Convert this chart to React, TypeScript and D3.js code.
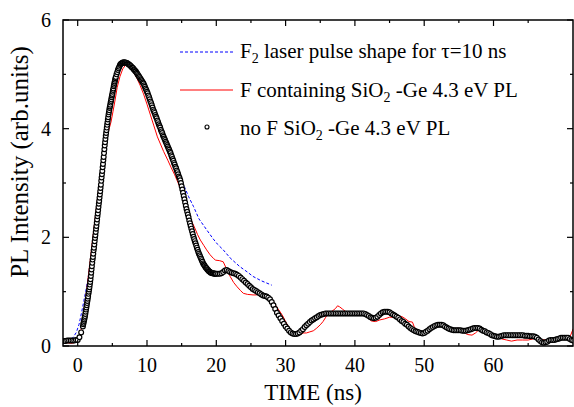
import React from 'react';
import * as d3 from 'd3';

// no F SiO2-Ge 4.3 eV PL (open circles), sampled in segments
const noFStart = [-2.0, 0.8, 5.6, 20.25];
const noFStep = [0.25, 0.05, 0.1, 0.25];
const noFBase = [0.09,0.09,0.10,0.10,0.10,0.10,0.10,0.11,0.11,0.16,0.25,0.36];
const noFRise = [
  0.40,0.43,0.46,0.49,0.52,0.55,0.59,0.63,0.67,0.71,0.75,0.79,0.83,0.87,0.91,0.96,1.00,1.04,1.08,1.13,
  1.18,1.23,1.29,1.35,1.41,1.47,1.53,1.59,1.64,1.70,1.76,1.81,1.87,1.93,1.99,2.04,2.10,2.16,2.21,2.27,
  2.33,2.39,2.44,2.50,2.56,2.62,2.67,2.73,2.79,2.85,2.91,2.97,3.04,3.10,3.16,3.22,3.29,3.35,3.42,3.48,
  3.55,3.62,3.69,3.75,3.81,3.87,3.92,3.97,4.02,4.07,4.12,4.17,4.21,4.26,4.30,4.34,4.38,4.41,4.44,4.48,
  4.51,4.54,4.58,4.61,4.64,4.68,4.71,4.74,4.78,4.81,4.84,4.87,4.90,4.93,4.95
];
const noFDecay = [
  5.00,5.04,5.08,5.11,5.14,5.17,5.19,5.20,5.21,5.22,5.22,5.22,5.22,5.22,5.21,5.21,5.20,5.19,5.18,5.17,
  5.16,5.15,5.13,5.12,5.11,5.09,5.08,5.06,5.05,5.03,5.01,4.99,4.97,4.95,4.93,4.91,4.89,4.87,4.85,4.83,
  4.80,4.77,4.74,4.71,4.68,4.65,4.61,4.58,4.54,4.50,4.47,4.43,4.39,4.35,4.32,4.29,4.25,4.22,4.19,4.15,
  4.12,4.08,4.05,4.02,3.98,3.95,3.92,3.88,3.85,3.82,3.79,3.76,3.73,3.70,3.67,3.64,3.61,3.58,3.55,3.51,
  3.48,3.44,3.41,3.37,3.34,3.30,3.27,3.23,3.20,3.16,3.12,3.09,3.05,3.00,2.94,2.88,2.82,2.76,2.70,2.64,
  2.58,2.52,2.47,2.42,2.37,2.31,2.26,2.21,2.16,2.11,2.06,2.01,1.97,1.93,1.89,1.85,1.81,1.77,1.73,1.70,
  1.67,1.64,1.61,1.58,1.55,1.52,1.50,1.48,1.46,1.44,1.43,1.41,1.40,1.38,1.37,1.36,1.35,1.35,1.34,1.34,
  1.34,1.33,1.33,1.33,1.33
];
const noFTail = [
  1.33,1.33,1.34,1.36,1.39,1.40,1.38,1.36,1.35,1.34,1.33,1.31,1.29,1.26,1.23,1.20,1.17,1.14,1.11,1.08,
  1.05,1.03,1.01,0.99,0.97,0.95,0.93,0.92,0.91,0.89,0.86,0.81,0.75,0.68,0.61,0.56,0.51,0.46,0.41,0.36,
  0.32,0.28,0.25,0.23,0.22,0.22,0.23,0.25,0.28,0.31,0.35,0.38,0.41,0.44,0.47,0.49,0.51,0.53,0.55,0.57,
  0.58,0.59,0.60,0.60,0.60,0.60,0.60,0.60,0.60,0.60,0.60,0.60,0.60,0.60,0.60,0.60,0.60,0.60,0.60,0.60,
  0.60,0.60,0.60,0.60,0.60,0.59,0.57,0.55,0.53,0.52,0.51,0.52,0.54,0.57,0.60,0.62,0.63,0.63,0.63,0.62,
  0.60,0.58,0.56,0.54,0.52,0.49,0.46,0.44,0.41,0.39,0.36,0.33,0.31,0.29,0.27,0.26,0.25,0.24,0.23,0.24,
  0.26,0.28,0.31,0.33,0.35,0.37,0.38,0.39,0.39,0.39,0.38,0.36,0.34,0.32,0.31,0.30,0.29,0.29,0.29,0.29,
  0.29,0.28,0.28,0.28,0.29,0.30,0.31,0.32,0.33,0.33,0.33,0.32,0.30,0.28,0.27,0.25,0.24,0.22,0.20,0.19,
  0.18,0.17,0.17,0.18,0.19,0.20,0.20,0.20,0.20,0.20,0.20,0.20,0.20,0.20,0.20,0.20,0.20,0.19,0.19,0.19,
  0.18,0.18,0.18,0.17,0.15,0.12,0.09,0.07,0.06,0.07,0.08,0.10,0.11,0.11,0.11,0.12,0.13,0.14,0.15,0.15,
  0.15,0.15,0.15,0.13,0.11,0.10
];

// F containing SiO2-Ge 4.3 eV PL (red line), [ns, intensity]
const fPL = [
  [-2.1,0.05],[-1.5,0.06],[-1.0,0.05],[-0.5,0.06],[0,0.09],[0.3,0.18],[0.6,0.36],[0.9,0.62],[1.2,0.92],
  [1.5,1.25],[1.8,1.57],[2.1,1.90],[2.4,2.22],[2.7,2.54],[3.0,2.86],[3.3,3.16],[3.6,3.44],[3.9,3.68],
  [4.2,3.86],[4.5,3.98],[4.8,4.12],[5.1,4.32],[5.4,4.53],[5.7,4.76],[6.1,4.96],[6.5,5.10],[6.9,5.17],
  [7.3,5.17],[7.7,5.10],[8.0,5.05],[8.5,4.94],[9.0,4.80],[9.5,4.64],[10.0,4.45],[10.5,4.25],[11.0,4.05],
  [11.5,3.85],[12.0,3.70],[12.4,3.58],[13.0,3.42],[13.5,3.28],[14.0,3.15],[14.5,3.00],[15.0,2.84],
  [15.5,2.64],[16.0,2.45],[16.5,2.28],[16.9,2.17],[17.3,2.05],[17.7,1.95],[18.2,1.85],[18.6,1.77],
  [19.1,1.68],[19.6,1.61],[19.9,1.58],[20.5,1.57],[21.0,1.55],[21.4,1.44],[21.7,1.36],[22.0,1.28],
  [22.5,1.17],[23.0,1.09],[23.5,1.02],[23.9,0.97],[24.5,0.95],[25.3,0.94],[25.8,0.94],[26.3,0.97],
  [26.8,0.93],[27.3,0.91],[27.8,0.87],[28.3,0.80],[28.8,0.70],[29.2,0.63],[29.6,0.55],[30.0,0.45],
  [30.4,0.36],[30.8,0.28],[31.1,0.22],[31.4,0.20],[31.8,0.20],[32.2,0.22],[32.6,0.24],[33.0,0.24],
  [33.5,0.26],[34.0,0.28],[34.5,0.33],[35.0,0.39],[35.4,0.45],[35.8,0.53],[36.2,0.60],[36.7,0.64],
  [37.2,0.69],[37.5,0.74],[37.8,0.72],[38.2,0.68],[38.6,0.64],[39.0,0.60],[41.0,0.60],[41.6,0.57],
  [42.0,0.50],[42.4,0.46],[43.0,0.45],[43.6,0.48],[44.3,0.50],[45.0,0.53],[45.6,0.53],[46.2,0.55],
  [46.8,0.54],[47.3,0.50],[47.8,0.45],[48.3,0.44],[48.6,0.34],[49.2,0.28],[49.8,0.25],[50.5,0.28],
  [51.2,0.34],[52.0,0.38],[52.8,0.37],[53.5,0.33],[54.2,0.30],[54.9,0.33],[55.3,0.30],[55.8,0.24],
  [56.3,0.21],[56.9,0.20],[57.4,0.24],[57.9,0.30],[58.6,0.29],[59.2,0.24],[59.9,0.20],[60.6,0.17],
  [61.2,0.13],[61.9,0.11],[62.6,0.09],[63.4,0.11],[64.2,0.11],[65.0,0.11],[65.7,0.13],[66.2,0.16],
  [66.8,0.12],[67.5,0.11],[68.2,0.12],[68.9,0.14],[69.6,0.15],[70.3,0.15],[70.9,0.14],[71.2,0.22],[71.5,0.32]
];

// F2 laser pulse shape (blue dashed), [ns, intensity]
const laserPulse = [
  [-2.1,0.04],[-1.2,0.08],[-0.6,0.17],[-0.2,0.25],[0.2,0.40],[0.6,0.64],[0.9,0.84],[1.2,1.03],[1.5,1.25],
  [1.8,1.50],[2.1,1.80],[2.4,2.13],[2.7,2.48],[3.0,2.83],[3.5,3.40],[4.0,3.88],[4.5,4.32],[5.0,4.68],
  [5.5,4.95],[6.0,5.13],[6.5,5.21],[7.0,5.22],[7.5,5.19],[8.0,5.13],[9.0,4.95],[10.0,4.72],[11.0,4.42],
  [12.0,4.08],[13.0,3.73],[14.0,3.40],[14.8,3.12],[15.5,2.90],[16.0,2.75],[16.7,2.57],[17.5,2.34],
  [18.6,2.14],[19.5,1.98],[20.2,1.87],[21.0,1.77],[22.0,1.62],[23.4,1.46],[24.5,1.36],[25.3,1.28],
  [26.5,1.20],[28.0,1.12]
];

const xTickLabels = [0, 10, 20, 30, 40, 50, 60];
const xMinorTicks = [5, 15, 25, 35, 45, 55, 65];
const yTickLabels = [0, 2, 4, 6];
const yMinorTicks = [1, 3, 5];

const font = '"Liberation Serif", "Times New Roman", serif';

const App = () => {
  const width = 574, height = 407;
  const left = 63, right = 573, top = 20, bottom = 346;
  const x = d3.scaleLinear().domain([-2.12, 71.47]).range([left, right]);
  const y = d3.scaleLinear().domain([0, 6]).range([bottom, top]);

  const segs = [noFBase, noFRise, noFDecay, noFTail];
  const noF: number[][] = [];
  segs.forEach((vals, s) => {
    vals.forEach((v, i) => noF.push([noFStart[s] + i * noFStep[s], v]));
  });

  const line = d3.line<number[]>().x(d => x(d[0])).y(d => y(d[1]));

  const axes = [];
  xTickLabels.forEach(t => {
    axes.push(<line key={'xb' + t} x1={x(t)} x2={x(t)} y1={bottom} y2={bottom - 6} stroke="black" strokeWidth={1.2} />);
    axes.push(<line key={'xt' + t} x1={x(t)} x2={x(t)} y1={top} y2={top + 6} stroke="black" strokeWidth={1.2} />);
    axes.push(<text key={'xl' + t} x={x(t)} y={372} textAnchor="middle" fontSize={20}>{t}</text>);
  });
  xMinorTicks.forEach(t => {
    axes.push(<line key={'xbm' + t} x1={x(t)} x2={x(t)} y1={bottom} y2={bottom - 3} stroke="black" strokeWidth={1.2} />);
    axes.push(<line key={'xtm' + t} x1={x(t)} x2={x(t)} y1={top} y2={top + 3} stroke="black" strokeWidth={1.2} />);
  });
  yTickLabels.forEach(t => {
    axes.push(<line key={'yl' + t} x1={left} x2={left + 6} y1={y(t)} y2={y(t)} stroke="black" strokeWidth={1.2} />);
    axes.push(<line key={'yr' + t} x1={right} x2={right - 6} y1={y(t)} y2={y(t)} stroke="black" strokeWidth={1.2} />);
    axes.push(<text key={'ylab' + t} x={51} y={y(t) + 7} textAnchor="end" fontSize={20}>{t}</text>);
  });
  yMinorTicks.forEach(t => {
    axes.push(<line key={'ylm' + t} x1={left} x2={left + 3} y1={y(t)} y2={y(t)} stroke="black" strokeWidth={1.2} />);
    axes.push(<line key={'yrm' + t} x1={right} x2={right - 3} y1={y(t)} y2={y(t)} stroke="black" strokeWidth={1.2} />);
  });

  return (
    <svg width={width} height={height} style={{ position: 'absolute', left: 0, top: 0, background: 'white' }} fontFamily={font}>
      <defs>
        <clipPath id="plot"><rect x={left} y={top} width={right - left} height={bottom - top} /></clipPath>
      </defs>
      <g clipPath="url(#plot)">
        <path d={line(laserPulse) || ''} fill="none" stroke="#0000ff" strokeWidth={1} strokeDasharray="3,2" />
        <path d={line(fPL) || ''} fill="none" stroke="#ff0000" strokeWidth={1} />
        {noF.map((d, i) => (
          <circle key={i} cx={x(d[0])} cy={y(d[1])} r={2.4} fill="white" stroke="black" strokeWidth={1.2} />
        ))}
      </g>
      <rect x={left} y={top} width={right - left} height={bottom - top} fill="none" stroke="black" strokeWidth={1.5} />
      {axes}
      <text x={313} y={400} textAnchor="middle" fontSize={23}>TIME (ns)</text>
      <text transform="translate(28,162) rotate(-90)" textAnchor="middle" fontSize={25}>PL Intensity (arb.units)</text>

      <g fontSize={21}>
        <line x1={180} x2={233} y1={52} y2={52} stroke="#0000ff" strokeWidth={1} strokeDasharray="3,2" />
        <text x={240} y={58}>F<tspan fontSize={14} dy={5}>2</tspan><tspan dy={-5}> laser pulse shape for τ=10 ns</tspan></text>
        <line x1={180} x2={233} y1={90} y2={90} stroke="#ff0000" strokeWidth={1} />
        <text x={240} y={97}>F containing SiO<tspan fontSize={14} dy={5}>2</tspan><tspan dy={-5}> -Ge 4.3 eV PL</tspan></text>
        <circle cx={207} cy={127} r={2} fill="white" stroke="black" strokeWidth={1.1} />
        <text x={240} y={135}>no F SiO<tspan fontSize={14} dy={5}>2</tspan><tspan dy={-5}> -Ge 4.3 eV PL</tspan></text>
      </g>
    </svg>
  );
};

export default App;
